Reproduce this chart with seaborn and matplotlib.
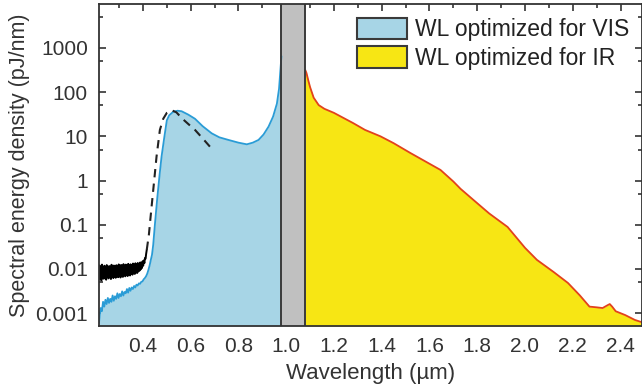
import matplotlib
matplotlib.use("Agg")
import matplotlib.pyplot as plt
import matplotlib.ticker as mticker
from matplotlib.patches import Patch
import seaborn as sns
import pandas as pd

# ---------------- data ----------------
# reference (black, noisy) spectrum at short wavelengths
ref_x = [0.216, 0.2185, 0.221, 0.2235, 0.226, 0.2285, 0.231, 0.2335, 0.236, 0.2385,
         0.241, 0.2435, 0.246, 0.2485, 0.251, 0.2535, 0.256, 0.2585, 0.261, 0.2635,
         0.266, 0.2685, 0.271, 0.2735, 0.276, 0.2785, 0.281, 0.2835, 0.286, 0.2885,
         0.291, 0.2935, 0.296, 0.2985, 0.301, 0.3035, 0.306, 0.3085, 0.311, 0.3135,
         0.316, 0.3185, 0.321, 0.3235, 0.326, 0.3285, 0.331, 0.3335, 0.336, 0.3385,
         0.341, 0.3435, 0.346, 0.3485, 0.351, 0.3535, 0.356, 0.3585, 0.361, 0.3635,
         0.366, 0.3685, 0.371, 0.3735, 0.376, 0.3785, 0.381, 0.3835, 0.386, 0.3885,
         0.391, 0.3935, 0.396, 0.3985, 0.401, 0.4035, 0.406, 0.4085, 0.411, 0.4135, 0.416]
ref_y = [0.0058, 0.012, 0.0062, 0.0105, 0.0055, 0.0125, 0.0068, 0.0098, 0.006, 0.0118,
         0.0064, 0.0108, 0.0057, 0.0122, 0.0066, 0.0101, 0.0061, 0.0116, 0.0069, 0.0104,
         0.0059, 0.0124, 0.0067, 0.0109, 0.0062, 0.0119, 0.0071, 0.0103, 0.0063, 0.0121,
         0.0068, 0.0107, 0.0065, 0.0126, 0.0072, 0.0111, 0.0064, 0.0123, 0.007, 0.0106,
         0.0066, 0.0128, 0.0073, 0.0112, 0.0068, 0.0125, 0.0074, 0.0109, 0.0069, 0.013,
         0.0076, 0.0114, 0.0071, 0.0127, 0.0078, 0.0117, 0.0074, 0.0132, 0.008, 0.0119,
         0.0077, 0.0134, 0.0083, 0.0122, 0.0081, 0.0136, 0.0088, 0.0127, 0.0092, 0.014,
         0.0098, 0.0138, 0.0105, 0.0148, 0.0118, 0.0155, 0.0135, 0.0175, 0.017, 0.022, 0.027]

# dashed black curve
dash_x = [0.416, 0.425, 0.432, 0.443, 0.457, 0.471, 0.485, 0.50, 0.52, 0.54,
          0.562, 0.59, 0.618, 0.65, 0.693]
dash_y = [0.027, 0.06, 0.15, 0.6, 3.5, 14, 25, 34, 39, 35,
          26, 19, 14, 9, 4.9]

# WL optimized for VIS
vis_x = [0.216, 0.219, 0.223, 0.228, 0.233, 0.238, 0.243, 0.248, 0.253, 0.258,
         0.263, 0.268, 0.273, 0.278, 0.283, 0.288, 0.293, 0.298, 0.303, 0.308,
         0.313, 0.318, 0.323, 0.328, 0.333, 0.338, 0.343, 0.348, 0.353, 0.358,
         0.363, 0.368, 0.373, 0.378, 0.383, 0.388, 0.393, 0.398, 0.403, 0.408,
         0.413, 0.418, 0.423, 0.428, 0.433, 0.438, 0.443, 0.45, 0.46, 0.47,
         0.478, 0.49, 0.50, 0.51, 0.527, 0.545, 0.562, 0.59, 0.618, 0.65,
         0.688, 0.72, 0.758, 0.80, 0.835, 0.86, 0.884, 0.905, 0.926, 0.945,
         0.961, 0.97, 0.975, 0.98]
vis_y = [0.0006, 0.0009, 0.0013, 0.0011, 0.0018, 0.0014, 0.0020, 0.0016, 0.0022, 0.0017,
         0.0021, 0.0018, 0.0025, 0.0019, 0.0024, 0.0021, 0.0028, 0.0022, 0.0027, 0.0024,
         0.0031, 0.0025, 0.0030, 0.0028, 0.0035, 0.0029, 0.0037, 0.0032, 0.0038, 0.0035,
         0.0041, 0.0038, 0.0044, 0.0042, 0.0047, 0.0046, 0.0051, 0.0052, 0.0058, 0.0062,
         0.0068, 0.0078, 0.0095, 0.012, 0.016, 0.021, 0.035, 0.10, 0.40, 1.4,
         3.5, 10, 23, 30, 36, 38, 37, 31, 25, 17,
         11.7, 9.5, 8.3, 7.2, 6.6, 7.2, 8.3, 11, 16.6, 28,
         55, 120, 280, 650]

# WL optimized for IR
ir_x = [1.08, 1.085, 1.093, 1.10, 1.115, 1.136, 1.16, 1.20, 1.28, 1.33,
        1.395, 1.45, 1.52, 1.60, 1.646, 1.70, 1.73, 1.785, 1.85, 1.927,
        2.0, 2.05, 2.12, 2.18, 2.23, 2.27, 2.30, 2.325, 2.345, 2.355,
        2.365, 2.38, 2.42, 2.46, 2.49]
ir_y = [316, 270, 180, 130, 75, 51, 42, 34, 20, 14,
        10, 7, 4.2, 2.4, 1.74, 0.95, 0.65, 0.36, 0.18, 0.089,
        0.03, 0.016, 0.0085, 0.0048, 0.0025, 0.0014, 0.00135, 0.0013, 0.0015, 0.0016,
        0.0014, 0.0011, 0.0009, 0.0007, 0.00062]

gap_range = [0.98, 1.08]
legend_labels = ["WL optimized for VIS", "WL optimized for IR"]
x_ticks = [0.4, 0.6, 0.8, 1.0, 1.2, 1.4, 1.6, 1.8, 2.0, 2.2, 2.4]
y_ticks = [0.001, 0.01, 0.1, 1, 10, 100, 1000]
y_tick_labels = ["0.001", "0.01", "0.1", "1", "10", "100", "1000"]

# ---------------- style ----------------
sns.set_style("ticks")
plt.rcParams["font.family"] = ["Liberation Sans", "DejaVu Sans"]
plt.rcParams["font.size"] = 15

VIS_FILL = "#a7d5e6"
VIS_LINE = "#2a9cd6"
IR_FILL = "#f7e614"
IR_LINE = "#e2421c"
EDGE = "#3a3a3a"
TXT = "#333333"

fig = plt.figure(figsize=(6.42, 3.92), dpi=100)
ax = fig.add_axes([99 / 642, 1 - 326 / 392, (642 - 99) / 642, (326 - 4) / 392])

vis_df = pd.DataFrame({"x": vis_x, "y": vis_y})
ir_df = pd.DataFrame({"x": ir_x, "y": ir_y})
ref_df = pd.DataFrame({"x": ref_x, "y": ref_y})
dash_df = pd.DataFrame({"x": dash_x, "y": dash_y})

ax.set_yscale("log")
ymin, ymax = 5.1e-4, 9.9e3

ax.fill_between(vis_df["x"], vis_df["y"], ymin, color=VIS_FILL, lw=0, zorder=1)
ax.fill_between(ir_df["x"], ir_df["y"], ymin, color=IR_FILL, lw=0, zorder=1)
sns.lineplot(data=vis_df, x="x", y="y", ax=ax, color=VIS_LINE, lw=1.3,
             sort=False, estimator=None, zorder=3)
sns.lineplot(data=ir_df, x="x", y="y", ax=ax, color=IR_LINE, lw=1.3,
             sort=False, estimator=None, zorder=3)
sns.lineplot(data=ref_df, x="x", y="y", ax=ax, color="black", lw=1.4,
             sort=False, estimator=None, zorder=4)
sns.lineplot(data=dash_df, x="x", y="y", ax=ax, color="#222222", lw=1.5,
             sort=False, estimator=None, zorder=4, dashes=False)
ax.lines[-1].set_linestyle((0, (4, 3)))

# gap band
ax.axvspan(gap_range[0], gap_range[1], facecolor="#c0c0c0", edgecolor="none", zorder=2)
for gx in gap_range:
    ax.axvline(gx, color=EDGE, lw=1.4, zorder=5)

ax.set_xlim(0.216, 2.49)
ax.set_ylim(ymin, ymax)

ax.xaxis.set_major_locator(mticker.FixedLocator(x_ticks))
ax.xaxis.set_major_formatter(mticker.FormatStrFormatter("%.1f"))
ax.xaxis.set_minor_locator(mticker.MultipleLocator(0.1))
ax.yaxis.set_major_locator(mticker.FixedLocator(y_ticks))
ax.yaxis.set_major_formatter(mticker.FixedFormatter(y_tick_labels))
ax.yaxis.set_minor_locator(mticker.LogLocator(base=10, subs=[5.0], numticks=20))
ax.yaxis.set_minor_formatter(mticker.NullFormatter())

ax.tick_params(which="both", direction="in", top=True, right=True, color=TXT,
               width=1.2, labelsize=15, labelcolor=TXT)
ax.tick_params(which="major", length=5, pad=8)
ax.tick_params(which="minor", length=3)
for s in ax.spines.values():
    s.set_color(TXT)
    s.set_linewidth(1.3)
    s.set_zorder(6)

ax.set_xlabel("Wavelength (µm)", fontsize=16, color=TXT, labelpad=5)
ax.set_ylabel("Spectral energy density (pJ/nm)", fontsize=15.5, color=TXT, labelpad=4)

handles = [Patch(facecolor=VIS_FILL, edgecolor=EDGE, lw=1.5),
           Patch(facecolor=IR_FILL, edgecolor=EDGE, lw=1.5)]
leg = ax.legend(handles, legend_labels, loc="upper left",
                bbox_to_anchor=((357 - 99) / 543, 1 - 14 / 322), frameon=False,
                fontsize=16.5, handlelength=2.2, handleheight=1.05,
                handletextpad=0.33, labelspacing=0.22, borderpad=0, borderaxespad=0)
for t in leg.get_texts():
    t.set_color("#222222")

fig.savefig("out.png", dpi=100)
